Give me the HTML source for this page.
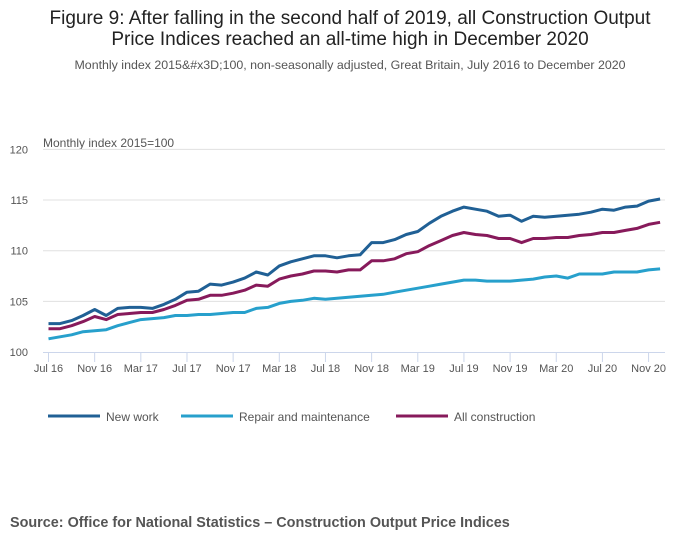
<!DOCTYPE html>
<html><head><meta charset="utf-8"><style>
body{margin:0;background:#fff;font-family:"Liberation Sans",sans-serif;}
svg{display:block}
</style></head><body>
<svg width="700" height="549">
<text x="350" y="24" text-anchor="middle" font-size="19" fill="#222">Figure 9: After falling in the second half of 2019, all Construction Output</text>
<text x="350" y="45" text-anchor="middle" font-size="19" fill="#222">Price Indices reached an all-time high in December 2020</text>
<text x="350" y="69" text-anchor="middle" font-size="12.4" fill="#555">Monthly index 2015&amp;#x3D;100, non-seasonally adjusted, Great Britain, July 2016 to December 2020</text>
<text x="43" y="147" font-size="12" fill="#555">Monthly index 2015=100</text>
<g id="grid"></g><g id="xaxis"></g><g id="series"></g>
<g>
<line x1="48" y1="416" x2="100" y2="416" stroke="#206095" stroke-width="3"/>
<text x="106" y="421" font-size="12" fill="#555">New work</text>
<line x1="181" y1="416" x2="233" y2="416" stroke="#27a0cc" stroke-width="3"/>
<text x="239" y="421" font-size="12" fill="#555">Repair and maintenance</text>
<line x1="396" y1="416" x2="448" y2="416" stroke="#871a5b" stroke-width="3"/>
<text x="454" y="421" font-size="12" fill="#555">All construction</text>
</g>
<text x="10" y="527" font-size="14.4" font-weight="bold" fill="#555">Source: Office for National Statistics – Construction Output Price Indices</text>
</svg>
<script>
const newWork=[102.8,102.8,103.1,103.6,104.2,103.6,104.3,104.4,104.4,104.3,104.7,105.2,105.9,106.0,106.7,106.6,106.9,107.3,107.9,107.6,108.5,108.9,109.2,109.5,109.5,109.3,109.5,109.6,110.8,110.8,111.1,111.6,111.9,112.7,113.4,113.9,114.3,114.1,113.9,113.4,113.5,112.9,113.4,113.3,113.4,113.5,113.6,113.8,114.1,114.0,114.3,114.4,114.9,115.1];
const repair=[101.3,101.5,101.7,102.0,102.1,102.2,102.6,102.9,103.2,103.3,103.4,103.6,103.6,103.7,103.7,103.8,103.9,103.9,104.3,104.4,104.8,105.0,105.1,105.3,105.2,105.3,105.4,105.5,105.6,105.7,105.9,106.1,106.3,106.5,106.7,106.9,107.1,107.1,107.0,107.0,107.0,107.1,107.2,107.4,107.5,107.3,107.7,107.7,107.7,107.9,107.9,107.9,108.1,108.2];
const allCon=[102.3,102.3,102.6,103.0,103.5,103.2,103.7,103.8,103.9,103.9,104.2,104.6,105.1,105.2,105.6,105.6,105.8,106.1,106.6,106.5,107.2,107.5,107.7,108.0,108.0,107.9,108.1,108.1,109.0,109.0,109.2,109.7,109.9,110.5,111.0,111.5,111.8,111.6,111.5,111.2,111.2,110.8,111.2,111.2,111.3,111.3,111.5,111.6,111.8,111.8,112.0,112.2,112.6,112.8];
const yTicks=[100,105,110,115,120];
const xLabels=["Jul 16","Nov 16","Mar 17","Jul 17","Nov 17","Mar 18","Jul 18","Nov 18","Mar 19","Jul 19","Nov 19","Mar 20","Jul 20","Nov 20"];
const NS="http://www.w3.org/2000/svg";
const x=i=>48.5+i*11.54;
const y=v=>352-(v-100)*10.13;
function mk(tag,attrs,parent){const e=document.createElementNS(NS,tag);for(const k in attrs)e.setAttribute(k,attrs[k]);document.getElementById(parent).appendChild(e);return e;}
yTicks.forEach(t=>{
  if(t>100){const l=mk('line',{x1:43,x2:665,y1:y(t),y2:y(t),stroke:'#e0e0e0','stroke-width':1},'grid');
  
  }
  const tx=mk('text',{x:28,y:y(t)+4,'text-anchor':'end','font-size':11,fill:'#555'},'grid');tx.textContent=t;
  
  
});
const ax=mk('line',{x1:43,x2:665,y1:352.5,y2:352.5,stroke:'#ccd6eb','stroke-width':1},'xaxis');


xLabels.forEach((lab,k)=>{
  const xi=x(k*4);
  const tk=mk('line',{x1:xi,x2:xi,y1:352,y2:362,stroke:'#ccd6eb'},'xaxis');
  
  
  const t=mk('text',{x:xi,y:372,'text-anchor':'middle','font-size':11,fill:'#555'},'xaxis');t.textContent=lab;
  
  
});
[[repair,'#27a0cc','repair-line'],[allCon,'#871a5b','all-construction-line'],[newWork,'#206095','new-work-line']].forEach(([d,c,n])=>{
  const p=mk('path',{d:d.map((v,i)=>(i?'L':'M')+x(i).toFixed(1)+' '+y(v).toFixed(1)).join(''),fill:'none',stroke:c,'stroke-width':3,'stroke-linejoin':'round'},'series');
  
  
});
</script>
</body></html>
